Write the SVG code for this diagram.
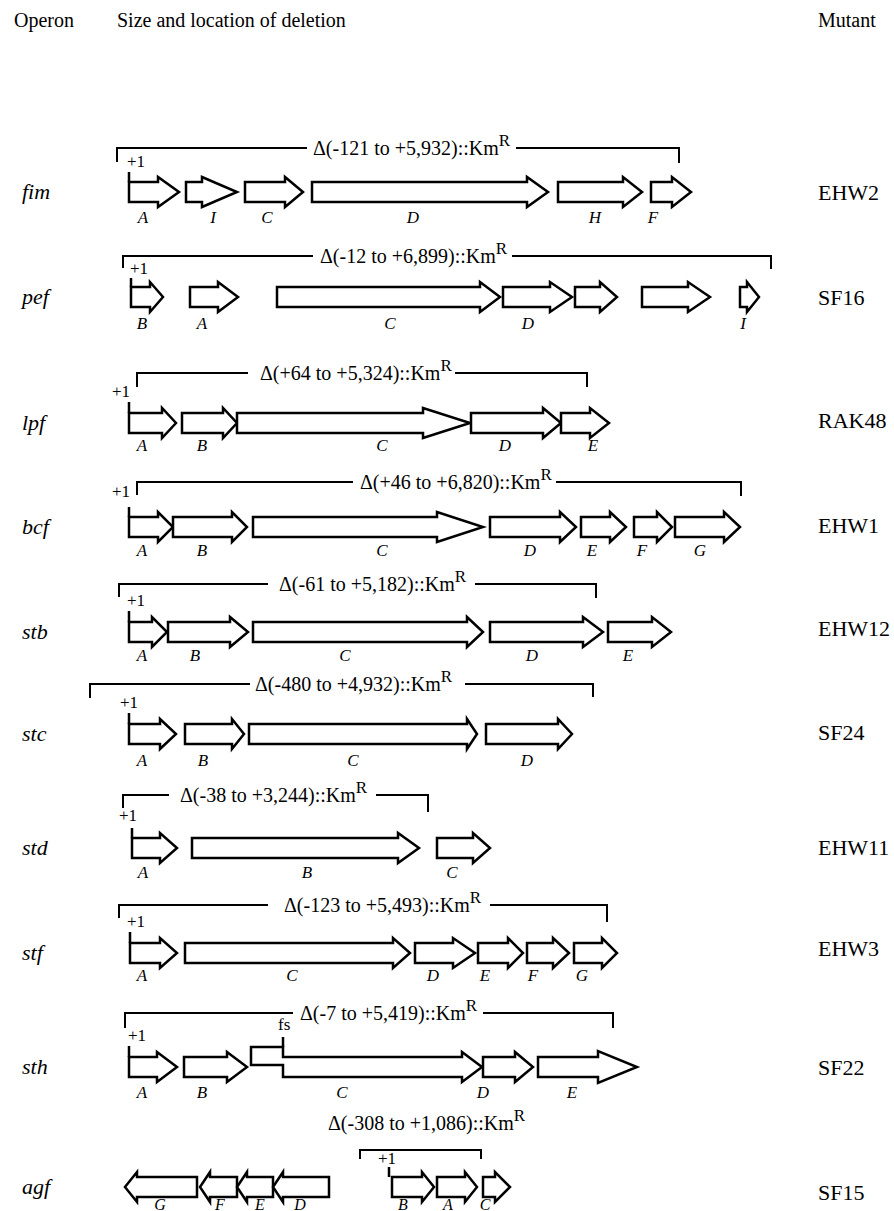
<svg xmlns="http://www.w3.org/2000/svg" width="894" height="1211" viewBox="0 0 894 1211">
<style>
.g{fill:#fff;stroke:#000;stroke-width:2.5;stroke-linejoin:miter}
.br{fill:none;stroke:#000;stroke-width:2}
.tk{fill:none;stroke:#000;stroke-width:2.5}
text{font-family:"Liberation Serif","Times New Roman",serif;fill:#000}
.lab{font-size:17px;font-style:italic;text-anchor:middle}
.lab2{font-size:16px;font-style:italic;text-anchor:middle}
.del{font-size:20px}
.sup{font-size:17px}
.mut{font-size:22px}
.op{font-size:22px;font-style:italic}
.hd{font-size:20px}
.p1{font-size:17px}
</style>
<rect width="894" height="1211" fill="#fff"/>
<g id="header">
<text class="hd" x="14" y="27">Operon</text>
<text class="hd" x="117" y="27">Size and location of deletion</text>
<text class="hd" x="818" y="27">Mutant</text>
</g>
<g id="connectors">
<path class="br" d="M117,162V148H307M516,148H679V163"/>
<path class="br" d="M123,268V256H313M512,256H771V269"/>
<path class="br" d="M137,387V373H248M455,373H587V387"/>
<path class="br" d="M137,495V482H353M556,482H741V496"/>
<path class="br" d="M119,597V584H268M475,584H596V598"/>
<path class="br" d="M90,698V684H250M465,684H593V697"/>
<path class="br" d="M123,808V795H169M376,795H428V812"/>
<path class="br" d="M119,918V905H268M490,905H607V922"/>
<path class="br" d="M125,1028V1013H293M483,1013H613V1028"/>
<path class="br" d="M360,1159V1150H481V1159"/>
<path class="tk" d="M129,172V182M131,278V287M129,402V413M129,507V517M129,611V622M129,713V724M132,828V838M130,932V943M129,1046V1057M389,1167V1177M283,1037V1047"/>
</g>
<g id="row-fim">
<text class="op" x="22" y="199">fim</text>
<text class="p1" x="127" y="167">+1</text>
<text class="del" x="313" y="155">Δ(-121 to +5,932)::Km<tspan class="sup" dy="-9">R</tspan></text>
<polygon class="g" points="129,182 158,182 158,177 179,192 158,207 158,202 129,202"/>
<polygon class="g" points="186,182 202,182 202,177 237,192 202,207 202,202 186,202"/>
<polygon class="g" points="245,182 285,182 285,177 303,192 285,207 285,202 245,202"/>
<polygon class="g" points="312,182 527,182 527,177 548,192 527,207 527,202 312,202"/>
<polygon class="g" points="558,182 623,182 623,177 642,192 623,207 623,202 558,202"/>
<polygon class="g" points="651,182 672,182 672,177 691,192 672,207 672,202 651,202"/>
<text class="lab" x="143" y="223">A</text><text class="lab" x="213" y="223">I</text><text class="lab" x="267" y="223">C</text><text class="lab" x="413" y="223">D</text><text class="lab" x="595" y="223">H</text><text class="lab" x="653" y="223">F</text>
<text class="mut" x="818" y="200">EHW2</text>
</g>
<g id="row-pef">
<text class="op" x="22" y="304">pef</text>
<text class="p1" x="130" y="274">+1</text>
<text class="del" x="320" y="263">Δ(-12 to +6,899)::Km<tspan class="sup" dy="-9">R</tspan></text>
<polygon class="g" points="131,287 150,287 150,282 163,297 150,312 150,307 131,307"/>
<polygon class="g" points="190,287 218,287 218,282 238,297 218,312 218,307 190,307"/>
<polygon class="g" points="277,287 480,287 480,282 500,297 480,312 480,307 277,307"/>
<polygon class="g" points="503,287 550,287 550,282 572,297 550,312 550,307 503,307"/>
<polygon class="g" points="575,287 600,287 600,282 617,297 600,312 600,307 575,307"/>
<polygon class="g" points="642,287 688,287 688,282 710,297 688,312 688,307 642,307"/>
<polygon class="g" points="740,287 747,287 747,282 759,297 747,312 747,307 740,307"/>
<text class="lab" x="142" y="329">B</text><text class="lab" x="202" y="329">A</text><text class="lab" x="390" y="329">C</text><text class="lab" x="528" y="329">D</text><text class="lab" x="743" y="329">I</text>
<text class="mut" x="818" y="305">SF16</text>
</g>
<g id="row-lpf">
<text class="op" x="22" y="430">lpf</text>
<text class="p1" x="112" y="397">+1</text>
<text class="del" x="260" y="380">Δ(+64 to +5,324)::Km<tspan class="sup" dy="-9">R</tspan></text>
<polygon class="g" points="129,413 162,413 162,408 176,423 162,438 162,433 129,433"/>
<polygon class="g" points="182,413 223,413 223,408 237,423 223,438 223,433 182,433"/>
<polygon class="g" points="237,413 423,413 423,408 470,423 423,438 423,433 237,433"/>
<polygon class="g" points="471,413 543,413 543,408 561,423 543,438 543,433 471,433"/>
<polygon class="g" points="561,413 590,413 590,408 609,423 590,438 590,433 561,433"/>
<text class="lab" x="142" y="451">A</text><text class="lab" x="202" y="451">B</text><text class="lab" x="382" y="451">C</text><text class="lab" x="505" y="451">D</text><text class="lab" x="593" y="451">E</text>
<text class="mut" x="818" y="428">RAK48</text>
</g>
<g id="row-bcf">
<text class="op" x="22" y="534">bcf</text>
<text class="p1" x="112" y="497">+1</text>
<text class="del" x="360" y="489">Δ(+46 to +6,820)::Km<tspan class="sup" dy="-9">R</tspan></text>
<polygon class="g" points="129,517 158,517 158,512 173,527 158,542 158,537 129,537"/>
<polygon class="g" points="173,517 232,517 232,512 247,527 232,542 232,537 173,537"/>
<polygon class="g" points="253,517 437,517 437,512 483,527 437,542 437,537 253,537"/>
<polygon class="g" points="490,517 560,517 560,512 576,527 560,542 560,537 490,537"/>
<polygon class="g" points="581,517 610,517 610,512 626,527 610,542 610,537 581,537"/>
<polygon class="g" points="634,517 657,517 657,512 672,527 657,542 657,537 634,537"/>
<polygon class="g" points="675,517 724,517 724,512 740,527 724,542 724,537 675,537"/>
<text class="lab" x="142" y="556">A</text><text class="lab" x="202" y="556">B</text><text class="lab" x="382" y="556">C</text><text class="lab" x="530" y="556">D</text><text class="lab" x="592" y="556">E</text><text class="lab" x="642" y="556">F</text><text class="lab" x="700" y="556">G</text>
<text class="mut" x="818" y="533">EHW1</text>
</g>
<g id="row-stb">
<text class="op" x="22" y="639">stb</text>
<text class="p1" x="127" y="606">+1</text>
<text class="del" x="279" y="591">Δ(-61 to +5,182)::Km<tspan class="sup" dy="-9">R</tspan></text>
<polygon class="g" points="129,622 152,622 152,617 167,632 152,647 152,642 129,642"/>
<polygon class="g" points="168,622 230,622 230,617 248,632 230,647 230,642 168,642"/>
<polygon class="g" points="253,622 467,622 467,617 483,632 467,647 467,642 253,642"/>
<polygon class="g" points="490,622 583,622 583,617 603,632 583,647 583,642 490,642"/>
<polygon class="g" points="608,622 652,622 652,617 671,632 652,647 652,642 608,642"/>
<text class="lab" x="142" y="661">A</text><text class="lab" x="195" y="661">B</text><text class="lab" x="345" y="661">C</text><text class="lab" x="532" y="661">D</text><text class="lab" x="628" y="661">E</text>
<text class="mut" x="818" y="636">EHW12</text>
</g>
<g id="row-stc">
<text class="op" x="22" y="741">stc</text>
<text class="p1" x="120" y="708">+1</text>
<text class="del" x="255" y="691">Δ(-480 to +4,932)::Km<tspan class="sup" dy="-9">R</tspan></text>
<polygon class="g" points="129,724 160,724 160,719 176,734 160,749 160,744 129,744"/>
<polygon class="g" points="185,724 232,724 232,719 244,734 232,749 232,744 185,744"/>
<polygon class="g" points="249,724 467,724 467,719 477,734 467,749 467,744 249,744"/>
<polygon class="g" points="486,724 558,724 558,719 572,734 558,749 558,744 486,744"/>
<text class="lab" x="142" y="766">A</text><text class="lab" x="203" y="766">B</text><text class="lab" x="353" y="766">C</text><text class="lab" x="527" y="766">D</text>
<text class="mut" x="818" y="740">SF24</text>
</g>
<g id="row-std">
<text class="op" x="22" y="855">std</text>
<text class="p1" x="119" y="821">+1</text>
<text class="del" x="180" y="802">Δ(-38 to +3,244)::Km<tspan class="sup" dy="-9">R</tspan></text>
<polygon class="g" points="132,838 160,838 160,833 177,848 160,863 160,858 132,858"/>
<polygon class="g" points="192,838 398,838 398,833 419,848 398,863 398,858 192,858"/>
<polygon class="g" points="437,838 473,838 473,833 490,848 473,863 473,858 437,858"/>
<text class="lab" x="143" y="878">A</text><text class="lab" x="307" y="878">B</text><text class="lab" x="452" y="878">C</text>
<text class="mut" x="818" y="855">EHW11</text>
</g>
<g id="row-stf">
<text class="op" x="22" y="960">stf</text>
<text class="p1" x="127" y="927">+1</text>
<text class="del" x="284" y="912">Δ(-123 to +5,493)::Km<tspan class="sup" dy="-9">R</tspan></text>
<polygon class="g" points="130,943 160,943 160,938 177,953 160,968 160,963 130,963"/>
<polygon class="g" points="185,943 393,943 393,938 410,953 393,968 393,963 185,963"/>
<polygon class="g" points="415,943 453,943 453,938 475,953 453,968 453,963 415,963"/>
<polygon class="g" points="478,943 508,943 508,938 523,953 508,968 508,963 478,963"/>
<polygon class="g" points="527,943 553,943 553,938 569,953 553,968 553,963 527,963"/>
<polygon class="g" points="574,943 602,943 602,938 617,953 602,968 602,963 574,963"/>
<text class="lab" x="142" y="981">A</text><text class="lab" x="292" y="981">C</text><text class="lab" x="433" y="981">D</text><text class="lab" x="485" y="981">E</text><text class="lab" x="533" y="981">F</text><text class="lab" x="582" y="981">G</text>
<text class="mut" x="818" y="956">EHW3</text>
</g>
<g id="row-sth">
<text class="op" x="22" y="1074">sth</text>
<text class="p1" x="128" y="1041">+1</text>
<text class="p1" x="278" y="1030">fs</text>
<text class="del" x="300" y="1020">Δ(-7 to +5,419)::Km<tspan class="sup" dy="-9">R</tspan></text>
<polygon class="g" points="129,1057 157,1057 157,1052 177,1067 157,1082 157,1077 129,1077"/>
<polygon class="g" points="184,1057 227,1057 227,1052 247,1067 227,1082 227,1077 184,1077"/>
<polygon class="g" points="283,1057 462,1057 462,1052 482,1067 462,1082 462,1077 283,1077 283,1065 251,1065 251,1047 283,1047"/>
<polygon class="g" points="483,1057 515,1057 515,1052 533,1067 515,1082 515,1077 483,1077"/>
<polygon class="g" points="538,1057 598,1057 598,1051 637,1067 598,1083 598,1077 538,1077"/>
<text class="lab" x="142" y="1098">A</text><text class="lab" x="202" y="1098">B</text><text class="lab" x="342" y="1098">C</text><text class="lab" x="483" y="1098">D</text><text class="lab" x="572" y="1098">E</text>
<text class="mut" x="818" y="1075">SF22</text>
</g>
<g id="row-agf">
<text class="op" x="22" y="1194">agf</text>
<text class="del" x="328" y="1130">Δ(-308 to +1,086)::Km<tspan class="sup" dy="-9">R</tspan></text>
<text class="p1" x="378" y="1164">+1</text>
<polygon class="g" points="197,1177 137,1177 137,1172 125,1187 137,1202 137,1197 197,1197"/>
<polygon class="g" points="237,1177 210,1177 210,1172 200,1187 210,1202 210,1197 237,1197"/>
<polygon class="g" points="273,1177 247,1177 247,1172 237,1187 247,1202 247,1197 273,1197"/>
<polygon class="g" points="329,1177 283,1177 283,1172 273,1187 283,1202 283,1197 329,1197"/>
<polygon class="g" points="392,1177 422,1177 422,1172 434,1187 422,1202 422,1197 392,1197"/>
<polygon class="g" points="437,1177 465,1177 465,1172 477,1187 465,1202 465,1197 437,1197"/>
<polygon class="g" points="483,1177 495,1177 495,1172 510,1187 495,1202 495,1197 483,1197"/>
<text class="lab2" x="160" y="1210">G</text><text class="lab2" x="220" y="1210">F</text><text class="lab2" x="260" y="1210">E</text><text class="lab2" x="300" y="1210">D</text><text class="lab2" x="403" y="1210">B</text><text class="lab2" x="448" y="1210">A</text><text class="lab2" x="485" y="1210">C</text>
<text class="mut" x="818" y="1200">SF15</text>
</g>
</svg>
